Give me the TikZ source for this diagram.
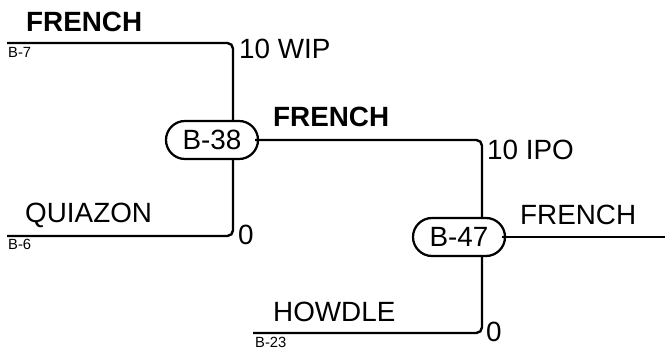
\documentclass[tikz,border=0pt]{standalone}
\usepackage{fontspec}
\setmainfont{Liberation Sans}
\usepackage{tikz}
\usetikzlibrary{shapes.misc}

\begin{document}
\begin{tikzpicture}[line width=1.7pt]
  \tikzstyle{game}=[rounded rectangle, draw, line width=1.6pt, minimum width=2.3cm, minimum height=0.95cm, inner sep=0pt, font=\fontsize{19.8}{22}\selectfont]
  \tikzstyle{team}=[anchor=base west, inner sep=0pt, font=\fontsize{19.8}{22}\selectfont]
  \tikzstyle{seed}=[anchor=base west, inner sep=0pt, font=\fontsize{10.5}{12}\selectfont]
  \tikzstyle{score}=[anchor=base west, inner sep=0pt, font=\fontsize{19.8}{22}\selectfont]
  \useasboundingbox (0,0) rectangle (16.625,-8.725);

  \node[game] (G_38) at (5.3,-3.5) {B-38};
  \node[game] (G_47) at (11.475,-5.925) {B-47};

  \coordinate (P_7) at (0.175,-1.075);
  \coordinate (K_7) at (5.825,-1.075);
  \coordinate (P_6) at (0.175,-5.9);
  \coordinate (K_6) at (5.825,-5.9);
  \coordinate (K_38) at (12.05,-3.5);
  \coordinate (P_23) at (6.325,-8.325);
  \coordinate (K_23) at (12.05,-8.325);
  \coordinate (W_47) at (16.625,-5.925);

  \node[team, font=\fontsize{19.8}{22}\selectfont\bfseries] (T_7) at (0.625,-0.8) {FRENCH};
  \node[seed] (S_7) at (0.175,-1.45) {B-7};
  \node[score] (R_7) at (5.95,-1.475) {10 WIP};
  \node[team] (T_6) at (0.6,-5.575) {QUIAZON};
  \node[seed] (S_6) at (0.175,-6.25) {B-6};
  \node[score] (R_6) at (5.925,-6.125) {0};
  \node[team, font=\fontsize{19.8}{22}\selectfont\bfseries] (T_38) at (6.8,-3.175) {FRENCH};
  \node[score] (R_38) at (12.15,-4.0) {10 IPO};
  \node[team] (T_47) at (12.975,-5.625) {FRENCH};
  \node[team] (T_23) at (6.8,-8.05) {HOWDLE};
  \node[seed] (S_23) at (6.35,-8.675) {B-23};
  \node[score] (R_23) at (12.125,-8.55) {0};

  \draw[rounded corners=4pt] (P_7) -- (K_7) -- (K_7 |- G_38.north);
  \draw[rounded corners=4pt] (P_6) -- (K_6) -- (K_6 |- G_38.south);
  \draw[rounded corners=4pt] ([xshift=-0.1cm]G_38.east) -- (K_38) -- (K_38 |- G_47.north);
  \draw[rounded corners=4pt] (P_23) -- (K_23) -- (K_23 |- G_47.south);
  \draw ([xshift=-0.1cm]G_47.east) -- (W_47);
\end{tikzpicture}
\end{document}
